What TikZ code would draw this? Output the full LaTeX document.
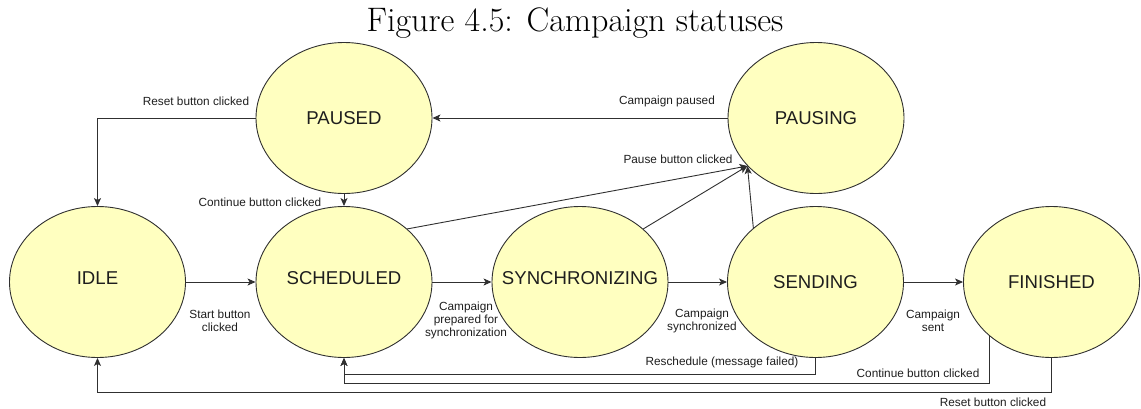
\documentclass[tikz,border=0pt]{standalone}
\usepackage{fontspec}
\newfontfamily\diagfont{Liberation Sans}
\usetikzlibrary{shapes.geometric,arrows.meta}
\definecolor{statefill}{HTML}{FFFFC0}
\definecolor{edgecol}{HTML}{303030}
\definecolor{inkcol}{HTML}{1E1E1E}
\tikzset{
  state/.style={ellipse, draw=edgecol, line width=0.9pt, fill=statefill,
    minimum width=176pt, minimum height=151pt, inner sep=0pt},
  statetext/.style={font=\diagfont\fontsize{18.6}{20}\selectfont, text=inkcol, inner sep=0pt},
  edge/.style={draw=edgecol, line width=0.9pt,
    -{Stealth[length=8pt,width=7pt,inset=2pt]}},
  lbl/.style={font=\diagfont\fontsize{11.8}{13}\selectfont, text=inkcol,
    align=center, inner sep=0pt},
  caption/.style={font=\fontsize{34}{40}\selectfont, anchor=base, inner sep=0pt}
}
\begin{document}
\begin{tikzpicture}[x=1pt,y=-1pt]
\useasboundingbox (0,0) rectangle (1141,408);

% caption
\node[caption] (title) at (575,31) {Figure 4.5: Campaign statuses};

% states
\node[state, label={[name=idle-t, statetext, yshift=4pt]center:IDLE}] (idle) at (97.5,282) {};
\node[state, label={[name=sched-t, statetext, yshift=4pt]center:SCHEDULED}] (sched) at (344,282) {};
\node[state, label={[name=sync-t, statetext, yshift=4pt]center:SYNCHRONIZING}] (sync) at (580,282) {};
\node[state, label={[name=sending-t, statetext]center:SENDING}] (sending) at (815.5,282) {};
\node[state, label={[name=finished-t, statetext]center:FINISHED}] (finished) at (1051.5,282) {};
\node[state, label={[name=paused-t, statetext]center:PAUSED}] (paused) at (344,118) {};
\node[state, label={[name=pausing-t, statetext]center:PAUSING}] (pausing) at (816,118) {};

% transitions
\draw[edge] (idle) -- (sched);
\draw[edge] (sched) -- (sync);
\draw[edge] (sync) -- (sending);
\draw[edge] (sending) -- (finished);
\draw[edge] (paused) -- (sched);
\draw[edge] (pausing) -- (paused);
\draw[edge] (paused.west) -| (idle.north);
\draw[edge] (sched.40) -- (pausing.215);
\draw[edge] (sync.40) -- (pausing.215);
\draw[edge] (sending.139) -- (pausing.215);
\draw[edge] (sending.south) -- ++(0,16) -| (sched.south);
\draw[edge] (finished.south west) -- ++(0,47.5) -| (sched.south);
\draw[edge] (finished.south) -- ++(0,34) -| (idle.south);

% transition labels
\node[lbl] (l-reset-top) at (196,101) {Reset button clicked};
\node[lbl] (l-cont-top) at (260,202) {Continue button clicked};
\node[lbl] (l-paused) at (667,101) {Campaign paused};
\node[lbl] (l-pause) at (678,159) {Pause button clicked};
\node[lbl] (l-start) at (220,320.5) {Start button\\clicked};
\node[lbl] (l-prep) at (466,320.5) {Campaign\\prepared for\\synchronization};
\node[lbl] (l-synced) at (702,320.5) {Campaign\\synchronized};
\node[lbl] (l-sent) at (933,320.5) {Campaign\\sent};
\node[lbl] (l-resched) at (722,362) {Reschedule (message failed)};
\node[lbl] (l-cont-bot) at (918,373) {Continue button clicked};
\node[lbl] (l-reset-bot) at (993,402.5) {Reset button clicked};
\end{tikzpicture}
\end{document}
